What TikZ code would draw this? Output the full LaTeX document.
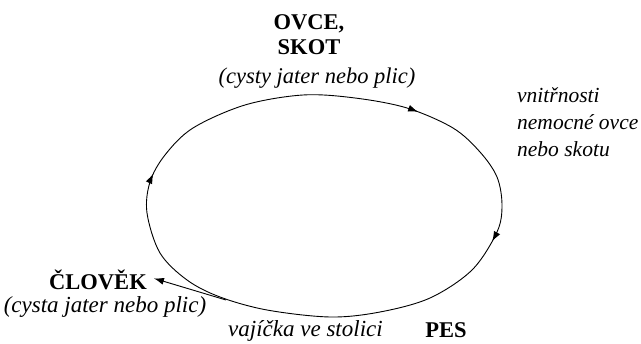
\documentclass[tikz,border=0pt]{standalone}
\usepackage{fontspec}
\setmainfont{Liberation Serif}
\usetikzlibrary{arrows.meta,decorations.markings}
\begin{document}
\begin{tikzpicture}[x=1pt,y=-1pt,
  bl/.style={font=\fontsize{22.5}{25}\selectfont\bfseries, inner sep=0pt},
  it/.style={font=\fontsize{22.5}{27}\selectfont\itshape, inner sep=0pt},
  itb/.style={font=\fontsize{23}{27}\selectfont\itshape, inner sep=0pt},
  its/.style={font=\fontsize{21.5}{27}\selectfont\itshape, inner sep=0pt},
  mytip/.tip={Latex[length=10pt,width=7pt]},
  cyc/.style={line width=0.9pt}]
\useasboundingbox (0,0) rectangle (641,344);
\draw[cyc, postaction={decorate}, decoration={markings,
   mark=at position 0.070 with {\arrow{mytip}},
   mark=at position 0.256 with {\arrow{mytip}},
   mark=at position 0.752 with {\arrow{mytip}}}]
  plot[smooth cycle, tension=0.55] coordinates {
  (303,95) (355,98) (407,108) (453,128) (480,152) (497,177) (502,205)
  (497,232) (472,270) (430,298) (380,312) (330,317) (267,310) (220,297)
  (187,280) (160,253) (147,213) (150,182) (165,155) (193,128) (245,105)};
\node[bl, align=center, anchor=base] (ovce) at (309,55) {OVCE,\\SKOT};
\node[it, anchor=base] (cysty) at (317,84) {(cysty jater nebo plic)};
\node[its, align=left, anchor=base west] (vnitr) at (517,157) {vnitřnosti\\nemocné ovce\\nebo skotu};
\node[bl, anchor=base] (clovek) at (98,290) {ČLOVĚK};
\node[itb, anchor=base] (cysta) at (105,313) {(cysta jater nebo plic)};
\node[itb, anchor=base west] (vajicka) at (228,337) {vajíčka ve stolici};
\node[bl, anchor=base] (pes) at (446,338) {PES};
\coordinate (branch) at (226,300);
\draw[cyc, -{mytip}] (branch) -- ([shift={(7,-2)}]clovek.east);
\end{tikzpicture}
\end{document}
